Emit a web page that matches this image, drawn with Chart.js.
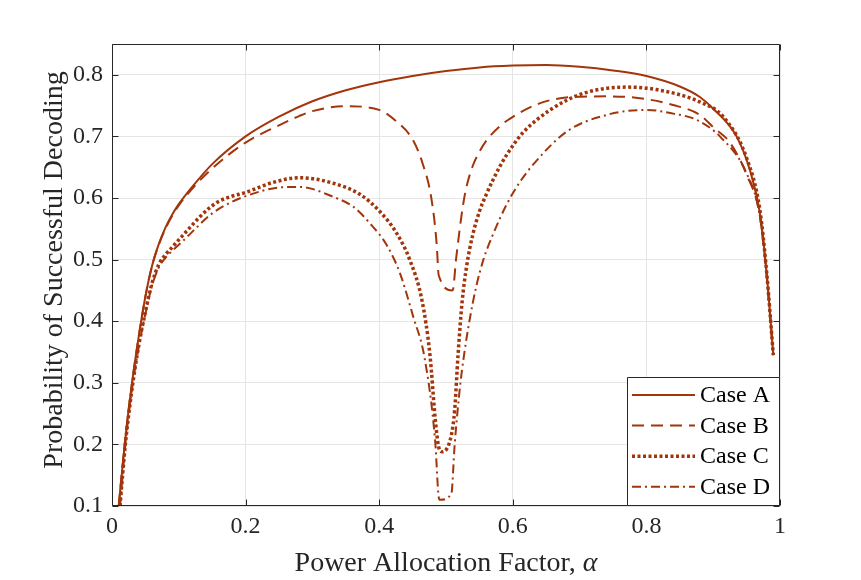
<!DOCTYPE html>
<html>
<head>
<meta charset="utf-8">
<script src="https://cdn.jsdelivr.net/npm/chart.js@4.4.1/dist/chart.umd.min.js"></script>
<style>
html, body { margin: 0; padding: 0; background: #fff; }
#wrap { width: 861px; height: 580px; }
</style>
</head>
<body>
<div id="wrap"><canvas id="chart" width="861" height="580"></canvas></div>
<script>
// values
var alphaA = [0.01, 0.02, 0.03, 0.04, 0.05, 0.06, 0.07, 0.08, 0.09, 0.1, 0.12, 0.15, 0.2, 0.25, 0.3, 0.35, 0.4, 0.45, 0.5, 0.55, 0.6, 0.65, 0.7, 0.75, 0.8, 0.85, 0.88, 0.9, 0.935, 0.955, 0.97, 0.98, 0.99];
var caseA  = [0.10, 0.21, 0.30, 0.375, 0.44, 0.49, 0.525, 0.552, 0.573, 0.59, 0.618, 0.655, 0.70, 0.732, 0.757, 0.775, 0.788, 0.798, 0.806, 0.812, 0.815, 0.816, 0.813, 0.807, 0.798, 0.781, 0.764, 0.745, 0.70, 0.645, 0.575, 0.478, 0.345];

var alphaB = [0.01, 0.02, 0.03, 0.04, 0.05, 0.06, 0.07, 0.08, 0.09, 0.1, 0.12, 0.15, 0.2, 0.25, 0.28, 0.3, 0.35, 0.4, 0.425, 0.45, 0.465, 0.478, 0.486, 0.489, 0.51, 0.515, 0.52, 0.525, 0.53, 0.54, 0.55, 0.561, 0.58, 0.596, 0.641, 0.69, 0.74, 0.79, 0.84, 0.88, 0.9, 0.925, 0.95, 0.97, 0.98, 0.99];
var caseB  = [0.10, 0.21, 0.30, 0.375, 0.44, 0.49, 0.524, 0.55, 0.571, 0.588, 0.615, 0.648, 0.69, 0.718, 0.733, 0.741, 0.749, 0.743, 0.725, 0.695, 0.656, 0.60, 0.526, 0.475, 0.45, 0.50, 0.545, 0.585, 0.615, 0.652, 0.675, 0.694, 0.716, 0.729, 0.754, 0.764, 0.765, 0.762, 0.751, 0.735, 0.715, 0.69, 0.638, 0.57, 0.475, 0.345];

var alphaC = [0.012, 0.02, 0.03, 0.04, 0.05, 0.06, 0.07, 0.08, 0.09, 0.104, 0.12, 0.132, 0.145, 0.159, 0.18, 0.2, 0.24, 0.281, 0.331, 0.371, 0.401, 0.426, 0.446, 0.464, 0.476, 0.484, 0.489, 0.494, 0.508, 0.513, 0.518, 0.524, 0.531, 0.54, 0.55, 0.56, 0.581, 0.6, 0.616, 0.656, 0.706, 0.771, 0.815, 0.88, 0.915, 0.95, 0.97, 0.98, 0.99];
var caseC  = [0.10, 0.20, 0.29, 0.36, 0.415, 0.462, 0.492, 0.508, 0.52, 0.537, 0.556, 0.57, 0.583, 0.594, 0.603, 0.609, 0.625, 0.633, 0.624, 0.606, 0.578, 0.543, 0.499, 0.434, 0.345, 0.24, 0.196, 0.188, 0.215, 0.256, 0.345, 0.43, 0.49, 0.54, 0.578, 0.605, 0.652, 0.685, 0.707, 0.743, 0.77, 0.78, 0.776, 0.756, 0.732, 0.665, 0.58, 0.48, 0.345];

var alphaD = [0.012, 0.02, 0.03, 0.04, 0.05, 0.06, 0.07, 0.08, 0.09, 0.104, 0.12, 0.15, 0.18, 0.2, 0.25, 0.281, 0.331, 0.361, 0.386, 0.411, 0.431, 0.451, 0.468, 0.484, 0.489, 0.491, 0.508, 0.513, 0.521, 0.527, 0.535, 0.545, 0.556, 0.57, 0.591, 0.61, 0.631, 0.681, 0.741, 0.8, 0.84, 0.875, 0.91, 0.95, 0.97, 0.98, 0.99];
var caseD  = [0.10, 0.20, 0.29, 0.358, 0.412, 0.458, 0.487, 0.503, 0.514, 0.528, 0.545, 0.575, 0.594, 0.603, 0.617, 0.618, 0.602, 0.586, 0.559, 0.524, 0.478, 0.407, 0.34, 0.202, 0.115, 0.11, 0.12, 0.20, 0.294, 0.345, 0.40, 0.455, 0.50, 0.54, 0.59, 0.625, 0.655, 0.708, 0.735, 0.743, 0.737, 0.727, 0.70, 0.64, 0.57, 0.475, 0.345];

var seriesNames = ['Case A', 'Case B', 'Case C', 'Case D'];
var xTicks = [0, 0.2, 0.4, 0.6, 0.8, 1];
var yTicks = [0.1, 0.2, 0.3, 0.4, 0.5, 0.6, 0.7, 0.8];

var lineColor = '#a3350b';
var axisColor = '#262626';
var serif = '"Liberation Serif", "Times New Roman", serif';

function pairs(xs, ys) {
    return xs.map(function (x, i) { return { x: x, y: ys[i] }; });
}

function fmt(v) {
    if (v === 0) return '0';
    if (v === 1) return '1';
    return v.toFixed(1);
}

// box, inward ticks, legend and axis titles (MATLAB look)
var framePlugin = {
    id: 'frame',
    afterDraw: function (chart) {
        var ctx = chart.ctx;
        var a = chart.chartArea;
        var xs = chart.scales.x, ys = chart.scales.y;
        var L = Math.round(a.left) + 0.5, R = Math.round(a.right) - 0.5;
        var T = Math.round(a.top) + 0.5, B = Math.round(a.bottom) - 0.5;
        ctx.save();
        ctx.strokeStyle = axisColor;
        ctx.lineWidth = 1;
        ctx.beginPath();
        ctx.rect(L, T, R - L, B - T);
        xTicks.forEach(function (v) {
            var px = Math.round(xs.getPixelForValue(v)) + 0.5;
            ctx.moveTo(px, B); ctx.lineTo(px, B - 6);
            ctx.moveTo(px, T); ctx.lineTo(px, T + 6);
        });
        yTicks.forEach(function (v) {
            var py = Math.round(ys.getPixelForValue(v)) + 0.5;
            ctx.moveTo(L, py); ctx.lineTo(L + 6, py);
            ctx.moveTo(R, py); ctx.lineTo(R - 6, py);
        });
        ctx.stroke();

        // legend in the lower right corner
        var lx = 627, ly = 377;
        ctx.fillStyle = '#fff';
        ctx.fillRect(lx, ly, R - lx, B - ly);
        ctx.beginPath();
        ctx.rect(lx + 0.5, ly + 0.5, R - lx - 0.5, B - ly - 0.5);
        ctx.stroke();
        ctx.font = '24px ' + serif;
        ctx.textBaseline = 'middle';
        ctx.textAlign = 'left';
        chart.data.datasets.forEach(function (ds, i) {
            var yy = 395 + i * 30.6;
            ctx.save();
            ctx.strokeStyle = ds.borderColor;
            ctx.lineWidth = ds.borderWidth;
            ctx.setLineDash(ds.borderDash || []);
            ctx.beginPath();
            ctx.moveTo(632, yy);
            ctx.lineTo(695, yy);
            ctx.stroke();
            ctx.restore();
            ctx.fillStyle = '#000';
            ctx.fillText(ds.label, 700, yy + 1);
        });

        // axis titles
        ctx.fillStyle = axisColor;
        var t1 = 'Power Allocation Factor, ';
        ctx.font = '28px ' + serif;
        var w1 = ctx.measureText(t1).width;
        ctx.font = 'italic 28px ' + serif;
        var w2 = ctx.measureText('\u03b1').width;
        var x0 = (a.left + a.right) / 2 - (w1 + w2) / 2;
        ctx.textBaseline = 'middle';
        ctx.font = '28px ' + serif;
        ctx.fillText(t1, x0, 564);
        ctx.font = 'italic 28px ' + serif;
        ctx.fillText('\u03b1', x0 + w1, 564);

        ctx.translate(55, 270);
        ctx.rotate(-Math.PI / 2);
        ctx.textAlign = 'center';
        ctx.font = '28px ' + serif;
        ctx.fillText('Probability of Successful Decoding', 0, 0);
        ctx.restore();
    }
};

var ctx = document.getElementById('chart').getContext('2d');
new Chart(ctx, {
    type: 'scatter',
    data: {
        datasets: [
            { label: seriesNames[0], data: pairs(alphaA, caseA), borderColor: lineColor, borderWidth: 2, borderDash: [] },
            { label: seriesNames[1], data: pairs(alphaB, caseB), borderColor: lineColor, borderWidth: 2, borderDash: [12, 7] },
            { label: seriesNames[2], data: pairs(alphaC, caseC), borderColor: lineColor, borderWidth: 3.5, borderDash: [3, 2.5] },
            { label: seriesNames[3], data: pairs(alphaD, caseD), borderColor: lineColor, borderWidth: 2, borderDash: [9, 4, 2, 4] }
        ]
    },
    options: {
        responsive: false,
        animation: false,
        showLine: true,
        layout: { padding: { top: 44, right: 81, left: 0, bottom: 0 } },
        elements: {
            point: { radius: 0, hoverRadius: 0 },
            line: { cubicInterpolationMode: 'monotone', fill: false, borderCapStyle: 'butt' }
        },
        plugins: {
            legend: { display: false },
            tooltip: { enabled: false }
        },
        scales: {
            x: {
                type: 'linear', min: 0, max: 1,
                afterBuildTicks: function (s) { s.ticks = xTicks.map(function (v) { return { value: v }; }); },
                afterFit: function (s) { s.height = 74; },
                grid: { color: '#e5e5e5', drawTicks: false },
                border: { display: false },
                ticks: {
                    padding: 6, color: axisColor, maxRotation: 0,
                    font: { family: serif, size: 24 },
                    callback: function (v) { return fmt(v); }
                }
            },
            y: {
                type: 'linear', min: 0.1, max: 0.85,
                afterBuildTicks: function (s) { s.ticks = yTicks.map(function (v) { return { value: v }; }); },
                afterFit: function (s) { s.width = 112; },
                grid: { color: '#e5e5e5', drawTicks: false },
                border: { display: false },
                ticks: {
                    padding: 9, color: axisColor,
                    font: { family: serif, size: 24 },
                    callback: function (v) { return v.toFixed(1); }
                }
            }
        }
    },
    plugins: [framePlugin]
});
</script>
</body>
</html>
